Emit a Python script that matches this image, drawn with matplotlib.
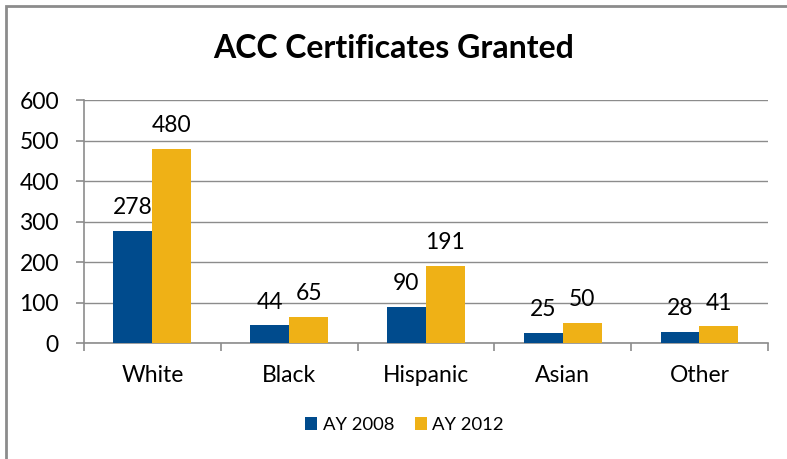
import numpy as np
import matplotlib.pyplot as plt
from matplotlib.patches import Rectangle

plt.rcParams['font.family'] = ['Lato', 'DejaVu Sans']

groups = ['White', 'Black', 'Hispanic', 'Asian', 'Other']
ay2008 = [278, 44, 90, 25, 28]
ay2012 = [480, 65, 191, 50, 41]
series_names = ['AY 2008', 'AY 2012']
colors = ['#004B8D', '#EFB116']

fig = plt.figure(figsize=(7.87, 4.59), dpi=100)
ax = fig.add_axes([0.1067, 0.2527, 0.869, 0.529])

# chart frame (top and left edges visible, the rest runs off the canvas)
fig.patches.append(Rectangle((5.5 / 787, -0.1), 1.2, 1.1 - 6.5 / 459,
                             transform=fig.transFigure, fill=False,
                             edgecolor='#8c8c8c', linewidth=2, zorder=10))

x = np.arange(len(groups))
w = 0.285
b1 = ax.bar(x - w / 2, ay2008, w, color=colors[0], label=series_names[0], zorder=3)
b2 = ax.bar(x + w / 2, ay2012, w, color=colors[1], label=series_names[1], zorder=3)
for bars in (b1, b2):
    ax.bar_label(bars, padding=9, fontsize=16.5, color='black')

ax.set_xlim(-0.5, len(groups) - 0.5)
ax.set_ylim(0, 600)
ax.set_yticks(range(0, 601, 100))
ax.yaxis.grid(True, color='#8c8c8c', linewidth=1, zorder=0)
ax.set_axisbelow(True)

ax.set_xticks(x)
ax.set_xticklabels(groups, fontsize=16.5)
ax.tick_params(axis='x', which='major', length=0, pad=16)
ax.set_xticks(np.arange(-0.5, len(groups), 1), minor=True)
ax.tick_params(axis='x', which='minor', length=6, width=1.2, color='#8c8c8c')
ax.tick_params(axis='y', length=6, width=1.2, color='#8c8c8c', labelsize=16.5, pad=12)

for s in ('top', 'right'):
    ax.spines[s].set_visible(False)
for s in ('left', 'bottom'):
    ax.spines[s].set_color('#8c8c8c')
    ax.spines[s].set_linewidth(1.2)

fig.text(0.5, 1 - 48 / 459, 'ACC Certificates Granted', ha='center', va='center',
         fontsize=23, fontweight='bold')

fig.legend(handles=[b1, b2], loc='center', bbox_to_anchor=(0.514, 1 - 425 / 459),
           ncol=2, frameon=False, fontsize=13.3, handlelength=0.65, handleheight=0.65,
           handletextpad=0.3, columnspacing=1.1)

fig.savefig('out.png', dpi=100, facecolor='white')
